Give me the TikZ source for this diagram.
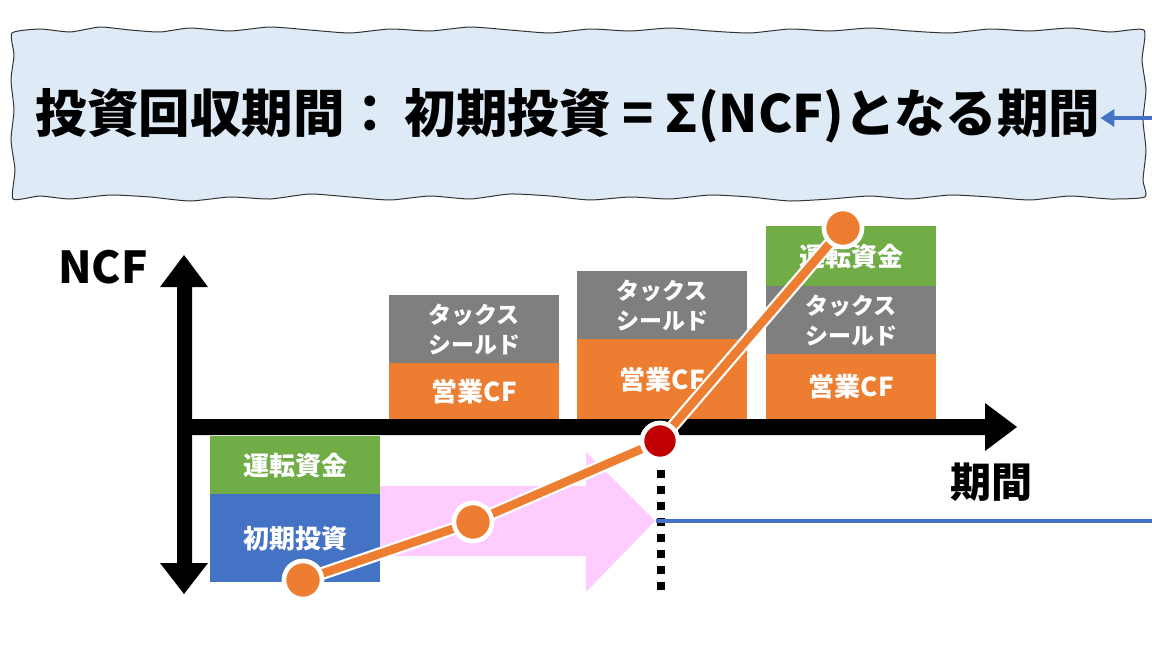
\documentclass[tikz,border=0pt]{standalone}
\usepackage{fontspec}
\newfontfamily\jp{Noto Sans CJK JP}
\usetikzlibrary{arrows.meta}
\definecolor{bannerfill}{HTML}{DEEBF7}
\definecolor{ocf}{HTML}{ED7D31}
\definecolor{gtax}{HTML}{7F7F7F}
\definecolor{gwork}{HTML}{70AD47}
\definecolor{binv}{HTML}{4472C4}
\definecolor{pinkarr}{HTML}{FFCCFF}
\definecolor{reddot}{HTML}{C00000}
\tikzset{
  cfbox/.style={anchor=north west, inner sep=0pt, text=white, font=\jp\bfseries, align=center},
  odot/.style={circle, fill=ocf, draw=white, line width=4.5pt, minimum size=38pt, inner sep=0pt},
  rdot/.style={circle, fill=reddot, draw=white, line width=4.5pt, minimum size=36pt, inner sep=0pt},
  axisfill/.style={fill=black},
}
\begin{document}
\begin{tikzpicture}[x=1pt,y=-1pt]
\useasboundingbox (0,0) rectangle (1152,648);
% banner
\draw[fill=bannerfill, line width=1pt, draw=black!80] plot[smooth cycle, tension=0.35] coordinates {
 (12,33) (40,29) (70,32) (100,27) (130,30) (160,32) (190,28) (230,31) (270,27) (310,30)
 (350,33) (390,29) (430,31) (470,27) (510,30) (550,33) (590,29) (630,31) (670,28) (710,31)
 (750,33) (790,29) (830,31) (870,28) (910,31) (950,33) (990,29) (1030,31) (1070,28) (1110,32) (1144,30)
 (1142,60) (1146,90) (1143,120) (1146,150) (1143,180) (1145,197)
 (1110,199) (1070,196) (1030,200) (990,197) (950,195) (910,199) (870,196) (830,199) (790,201) (750,197)
 (710,195) (670,199) (630,197) (590,200) (550,196) (510,194) (470,199) (430,196) (390,200) (350,197)
 (310,194) (270,199) (230,197) (190,201) (150,197) (110,195) (70,199) (40,196) (13,199)
 (15,170) (11,140) (14,110) (11,80) (14,55)};
\node[font=\jp\bfseries\fontsize{51.5}{56}\selectfont, inner sep=0pt] (title) at (568,116) {投資回収期間：\,初期投資 = Σ(NCF)となる期間};
\coordinate (arrstart) at (1152,118);
\draw[binv, line width=4pt, -{Triangle[length=14pt,width=17pt]}] (arrstart) -- (title.east |- arrstart);
% pink arrow
\fill[pinkarr] (380,486) -- (586,486) -- (586,452) -- (655,521) -- (586,592) -- (586,556) -- (380,556) -- cycle;
% boxes negative
\node[cfbox, fill=gwork, minimum width=170pt, minimum height=58pt, font=\jp\bfseries\fontsize{26}{30}\selectfont] (w0) at (210,436) {運転資金};
\node[cfbox, fill=binv, minimum width=170pt, minimum height=88pt, font=\jp\bfseries\fontsize{26}{30}\selectfont] (i0) at (210,494) {初期投資};
% year 1
\node[cfbox, fill=gtax, minimum width=170pt, minimum height=68pt, font=\jp\bfseries\fontsize{23}{30}\selectfont] (t1) at (389,295) {タックス\\シールド};
\node[cfbox, fill=ocf, minimum width=170pt, minimum height=57pt, font=\jp\bfseries\fontsize{26}{30}\selectfont] (o1) at (389,363) {営業CF};
% year 2
\node[cfbox, fill=gtax, minimum width=170pt, minimum height=68pt, font=\jp\bfseries\fontsize{23}{30}\selectfont] (t2) at (577,271) {タックス\\シールド};
\node[cfbox, fill=ocf, minimum width=170pt, minimum height=81pt, font=\jp\bfseries\fontsize{26}{30}\selectfont] (o2) at (577,339) {営業CF};
% year 3
\node[cfbox, fill=gwork, minimum width=170pt, minimum height=60pt, font=\jp\bfseries\fontsize{26}{30}\selectfont] (w3) at (766,226) {運転資金};
\node[cfbox, fill=gtax, minimum width=170pt, minimum height=68pt, font=\jp\bfseries\fontsize{23}{30}\selectfont] (t3) at (766,286) {タックス\\シールド};
\node[cfbox, fill=ocf, minimum width=170pt, minimum height=65pt, font=\jp\bfseries\fontsize{26}{30}\selectfont] (o3) at (766,354) {営業CF};
% axes
\fill[axisfill] (177,287) -- (160,287) -- (184,255) -- (208,287) -- (192,287) -- (192,563) -- (208,563) -- (184,594) -- (160,563) -- (177,563) -- cycle;
\fill[axisfill] (177,419) -- (985,419) -- (985,403) -- (1017,427) -- (985,451) -- (985,435) -- (177,435) -- cycle;
% payback markers
\coordinate (dtop) at (661,470);
\coordinate (dbot) at (661,590);
\draw[line width=8pt, dash pattern=on 8pt off 8pt] (dtop) -- (dbot);
\coordinate (bl) at (656,521);
\coordinate (br) at (1152,521);
\draw[binv, line width=4.5pt] (bl) -- (br);
% dots
\node[odot] (p0) at (303,580) {};
\node[odot] (p1) at (473,522) {};
\node[rdot] (p2) at (660,441) {};
\node[odot] (p3) at (843,228) {};
% cumulative line
\draw[white, line width=13pt] (p0.center) -- (p1.center) -- (p2.center) -- (p3.center);
\draw[ocf, line width=8.5pt] (p0.center) -- (p1.center) -- (p2.center) -- (p3.center);
\node[odot] at (p0) {};
\node[odot] at (p1) {};
\node[rdot] at (p2) {};
\node[odot] at (p3) {};
% labels
\node[font=\jp\bfseries\fontsize{44}{50}\selectfont, inner sep=0pt] (ncf) at (103,267) {NCF};
\node[font=\jp\bfseries\fontsize{41}{46}\selectfont, inner sep=0pt] (period) at (991,482) {期間};
\end{tikzpicture}
\end{document}
